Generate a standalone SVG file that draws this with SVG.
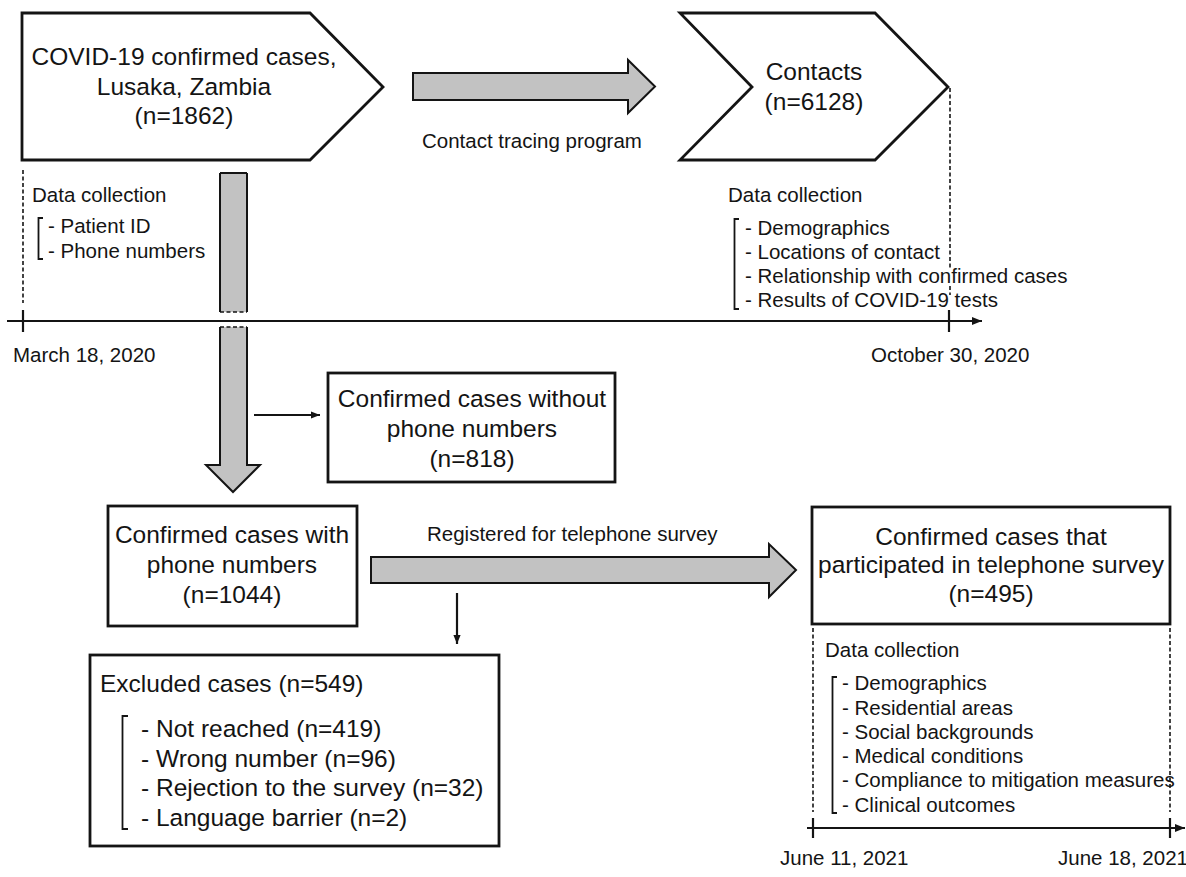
<svg xmlns="http://www.w3.org/2000/svg" width="1186" height="877" viewBox="0 0 1186 877">
<style>
text{font-family:"Liberation Sans",Arial,sans-serif;fill:#141414}
.big{font-size:24.5px}
.sm{font-size:20.5px}
.mid{text-anchor:middle}
.box{fill:#fff;stroke:#141414;stroke-width:2.8}
.gray{fill:#c2c2c2;stroke:#141414;stroke-width:2}
.ln{fill:none;stroke:#141414;stroke-width:2.2}
.dash{fill:none;stroke:#141414;stroke-width:1.6;stroke-dasharray:4 2.5}
.brk{fill:none;stroke:#141414;stroke-width:1.8}
</style>
<defs>
<marker id="ah" viewBox="0 0 10 10" refX="10" refY="5" markerWidth="10" markerHeight="10" markerUnits="userSpaceOnUse" orient="auto">
<path d="M0,1 L10,5 L0,9 z" fill="#141414"/>
</marker>
<marker id="ahs" viewBox="0 0 10 10" refX="10" refY="5" markerWidth="9" markerHeight="9" markerUnits="userSpaceOnUse" orient="auto">
<path d="M0,1 L10,5 L0,9 z" fill="#141414"/>
</marker>
</defs>
<rect width="1186" height="877" fill="#fff"/>

<g id="node-confirmed">
<polygon class="box" points="22,13 310,13 383,87 310,160 22,160"/>
<text class="big mid" x="184" y="65">COVID-19 confirmed cases,</text>
<text class="big mid" x="184" y="95">Lusaka, Zambia</text>
<text class="big mid" x="184" y="124">(n=1862)</text>
</g>

<g id="node-contacts">
<polygon class="box" points="680,13 875,13 948,87 875,160 680,160 752,87"/>
<text class="big mid" x="814" y="80">Contacts</text>
<text class="big mid" x="814" y="110">(n=6128)</text>
</g>

<g id="data-collection-1">
<text class="sm" x="32" y="202">Data collection</text>
<path class="brk" d="M43,218 H38.5 V259 H43"/>
<text class="sm" x="48" y="233">- Patient ID</text>
<text class="sm" x="48" y="258">- Phone numbers</text>
</g>

<g id="data-collection-2">
<text class="sm" x="728" y="202">Data collection</text>
<path class="brk" d="M739,219 H734.5 V309 H739"/>
<text class="sm" x="745" y="235">- Demographics</text>
<text class="sm" x="745" y="259">- Locations of contact</text>
<text class="sm" x="745" y="283">- Relationship with confirmed cases</text>
<text class="sm" x="745" y="307">- Results of COVID-19 tests</text>
</g>

<g id="timeline-1">
<line class="ln" x1="7" y1="321" x2="982" y2="321" marker-end="url(#ah)"/>
<line class="ln" x1="23" y1="310" x2="23" y2="332"/>
<line class="ln" x1="949" y1="310" x2="949" y2="332"/>
<line class="dash" x1="23" y1="170" x2="23" y2="303"/>
<line class="dash" x1="950" y1="88" x2="950" y2="268"/>
<line class="dash" x1="950" y1="286" x2="950" y2="295"/>
<text class="sm" x="13" y="362">March 18, 2020</text>
<text class="sm" x="871" y="362">October 30, 2020</text>
</g>

<g id="node-without-phone">
<rect class="box" x="328" y="373" width="287" height="109"/>
<text class="big mid" x="472" y="407">Confirmed cases without</text>
<text class="big mid" x="472" y="437">phone numbers</text>
<text class="big mid" x="472" y="467">(n=818)</text>
</g>

<g id="node-with-phone">
<rect class="box" x="108" y="506" width="249" height="120"/>
<text class="big mid" x="232" y="543">Confirmed cases with</text>
<text class="big mid" x="232" y="573">phone numbers</text>
<text class="big mid" x="232" y="603">(n=1044)</text>
</g>

<g id="node-excluded">
<rect class="box" x="90" y="655" width="409" height="191"/>
<text class="big" x="100" y="692">Excluded cases (n=549)</text>
<path class="brk" d="M128,716 H122.5 V829 H128"/>
<text class="big" x="141" y="737">- Not reached (n=419)</text>
<text class="big" x="141" y="767">- Wrong number (n=96)</text>
<text class="big" x="141" y="796">- Rejection to the survey (n=32)</text>
<text class="big" x="141" y="826">- Language barrier (n=2)</text>
</g>

<g id="node-participated">
<rect class="box" x="812" y="507" width="358" height="117"/>
<text class="big mid" x="991" y="545">Confirmed cases that</text>
<text class="big mid" x="991" y="573">participated in telephone survey</text>
<text class="big mid" x="991" y="602">(n=495)</text>
</g>

<g id="data-collection-3">
<text class="sm" x="825" y="657">Data collection</text>
<path class="brk" d="M837,677 H832.5 V813 H837"/>
<text class="sm" x="842" y="690">- Demographics</text>
<text class="sm" x="842" y="715">- Residential areas</text>
<text class="sm" x="842" y="739">- Social backgrounds</text>
<text class="sm" x="842" y="763">- Medical conditions</text>
<text class="sm" x="842" y="787">- Compliance to mitigation measures</text>
<text class="sm" x="842" y="812">- Clinical outcomes</text>
</g>

<g id="timeline-2">
<line class="ln" x1="807" y1="828" x2="1185" y2="828" marker-end="url(#ah)"/>
<line class="ln" x1="813" y1="818" x2="813" y2="838"/>
<line class="ln" x1="1170" y1="818" x2="1170" y2="838"/>
<line class="dash" x1="813" y1="628" x2="813" y2="812"/>
<line class="dash" x1="1170" y1="628" x2="1170" y2="812"/>
<text class="sm" x="780" y="865">June 11, 2021</text>
<text class="sm" x="1058" y="865">June 18, 2021</text>
</g>

<g id="connectors">
<polygon class="gray" points="413,73 628,73 628,60 655,86.5 628,113 628,100 413,100"/>
<text class="sm" x="422" y="148">Contact tracing program</text>

<rect x="220" y="173" width="27" height="139" fill="#c2c2c2"/>
<path class="ln" style="stroke-width:2" d="M220,173 V312 M247,173 V312 M220,173 H247"/>
<line class="dash" x1="220" y1="312" x2="247" y2="312"/>

<polygon points="220,327 247,327 247,465 260,465 233,492 206,465 220,465" fill="#c2c2c2"/>
<polyline class="ln" style="stroke-width:2" points="220,327 220,465 206,465 233,492 260,465 247,465 247,327"/>
<line class="dash" x1="220" y1="327" x2="247" y2="327"/>

<line class="ln" x1="254" y1="415" x2="320" y2="415" marker-end="url(#ahs)"/>

<polygon class="gray" points="371,557 769,557 769,544 796,570 769,597 769,583 371,583"/>
<text class="sm" x="427" y="541">Registered for telephone survey</text>

<line class="ln" x1="457" y1="593" x2="457" y2="644" marker-end="url(#ahs)"/>
</g>
</svg>
